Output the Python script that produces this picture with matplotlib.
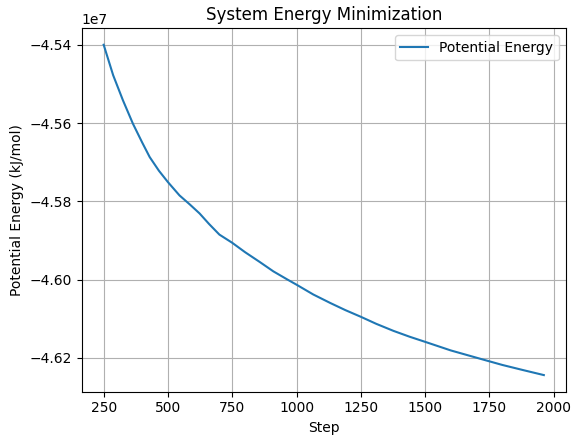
import matplotlib
matplotlib.use("Agg")
import matplotlib.pyplot as plt

# energy minimization trace (step, potential energy in kJ/mol)
steps = [250, 287, 325, 364, 400, 429, 465, 500, 545, 585, 623, 660, 700,
         750, 800, 857, 910, 965, 1000, 1065, 1132, 1190, 1250, 1310, 1377,
         1440, 1500, 1600, 1713, 1800, 1880, 1962]
energy_e7 = [-4.5400, -4.5478, -4.5542, -4.5602, -4.5650, -4.5687, -4.5722,
             -4.5751, -4.5785, -4.5808, -4.5831, -4.5858, -4.5885, -4.5906,
             -4.5930, -4.5955, -4.5979, -4.6000, -4.6013, -4.6038, -4.6060,
             -4.6078, -4.6095, -4.6113, -4.6131, -4.6146, -4.6159, -4.6181,
             -4.6202, -4.6218, -4.6231, -4.6244]
energy = [e * 1e7 for e in energy_e7]

fig, ax = plt.subplots(figsize=(5.71, 4.41), dpi=100)
ax.plot(steps, energy, label="Potential Energy")
ax.set_title("System Energy Minimization")
ax.set_xlabel("Step")
ax.set_ylabel("Potential Energy (kJ/mol)")
ax.legend()
ax.grid(True)

fig.subplots_adjust(left=0.143, right=0.991, bottom=0.112, top=0.936)
plt.savefig("out.png")
